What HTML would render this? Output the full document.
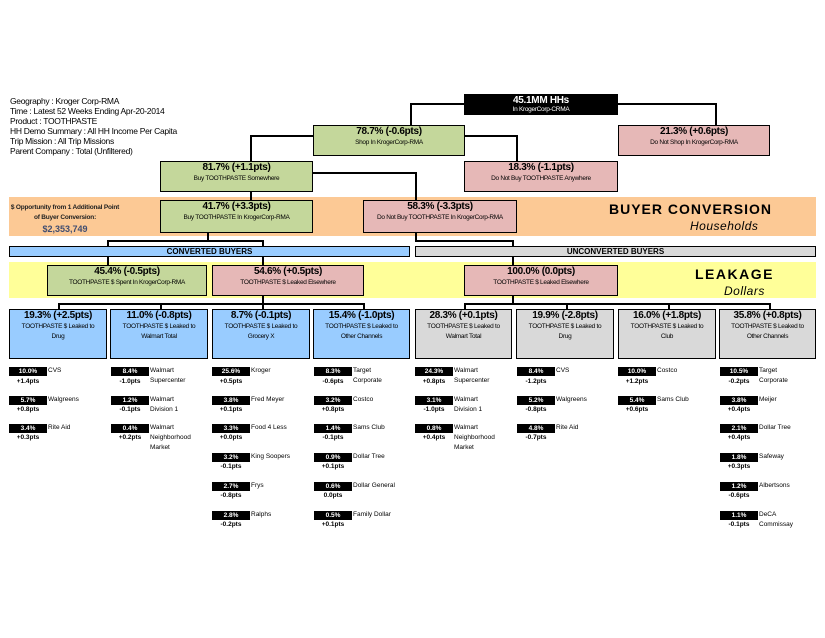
<!DOCTYPE html>
<html><head><meta charset="utf-8"><style>
body{margin:0;width:825px;height:638px;background:#fff;position:relative;overflow:hidden;font-family:"Liberation Sans",Arial,sans-serif;color:#000}
.a{position:absolute;box-sizing:border-box}
.bx{position:absolute;box-sizing:border-box;border:1.5px solid #000;text-align:center;line-height:1}
.bx b{display:block;font-size:10px;font-weight:bold;margin-top:1px;letter-spacing:-0.3px}
.bx span{display:block;font-size:6.5px;margin-top:1px;line-height:10px;letter-spacing:-0.3px}
.g{background:#c4d79b}.p{background:#e6b8b7}.bl{background:#99ccff}.gr{background:#d9d9d9}
.h{position:absolute;height:1.5px;background:#000}
.v{position:absolute;width:1.5px;background:#000}
.k{position:absolute;width:38px;height:9px;background:#000;color:#fff;font-size:6.5px;font-weight:bold;text-align:center;line-height:9px}
.n{position:absolute;font-size:6.5px;line-height:10px;white-space:nowrap}
.d{position:absolute;width:38px;font-size:6.5px;font-weight:bold;text-align:center;line-height:9px}
</style></head><body>
<div class="a" style="left:10px;top:96px;font-size:8.5px;line-height:10px;letter-spacing:-0.3px">Geography : Kroger Corp-RMA<br>Time : Latest 52 Weeks Ending Apr-20-2014<br>Product : TOOTHPASTE<br>HH Demo Summary : All HH Income Per Capita<br>Trip Mission : All Trip Missions<br>Parent Company : Total (Unfiltered)</div>

<div class="a" style="left:9px;top:197px;width:807px;height:39px;background:#fcc995"></div>
<div class="a" style="left:9px;top:262px;width:807px;height:36px;background:#ffff99"></div>

<!-- connectors -->
<div class="h" style="left:410px;top:103px;width:54px"></div><div class="v" style="left:410px;top:103px;height:22px"></div>
<div class="h" style="left:618px;top:103px;width:98px"></div><div class="v" style="left:715px;top:103px;height:22px"></div>
<div class="h" style="left:250px;top:135px;width:63px"></div><div class="v" style="left:250px;top:135px;height:26px"></div>
<div class="h" style="left:465px;top:135px;width:52px"></div><div class="v" style="left:516px;top:135px;height:26px"></div>
<div class="v" style="left:250px;top:192px;height:8px"></div>
<div class="h" style="left:313px;top:172px;width:103px"></div><div class="v" style="left:415px;top:172px;height:28px"></div>
<div class="v" style="left:207px;top:233px;height:8px"></div><div class="h" style="left:107px;top:240px;width:156px"></div>
<div class="v" style="left:107px;top:240px;height:6px"></div><div class="v" style="left:262px;top:240px;height:6px"></div>
<div class="v" style="left:415px;top:233px;height:8px"></div><div class="h" style="left:415px;top:240px;width:98px"></div><div class="v" style="left:512px;top:240px;height:6px"></div>
<div class="v" style="left:107px;top:256px;height:9px"></div><div class="v" style="left:262px;top:256px;height:9px"></div><div class="v" style="left:512px;top:256px;height:9px"></div>
<div class="v" style="left:262px;top:296px;height:8px"></div><div class="h" style="left:58px;top:303px;width:306px"></div>
<div class="v" style="left:58px;top:303px;height:7px"></div><div class="v" style="left:160px;top:303px;height:7px"></div><div class="v" style="left:262px;top:303px;height:7px"></div><div class="v" style="left:363px;top:303px;height:7px"></div>
<div class="v" style="left:512px;top:296px;height:8px"></div><div class="h" style="left:464px;top:303px;width:306px"></div>
<div class="v" style="left:464px;top:303px;height:7px"></div><div class="v" style="left:566px;top:303px;height:7px"></div><div class="v" style="left:668px;top:303px;height:7px"></div><div class="v" style="left:769px;top:303px;height:7px"></div>

<div class="bx" style="left:464px;top:94px;width:154px;height:21px;background:#000;color:#fff"><b style="margin-top:1px">45.1MM HHs</b><span style="margin-top:0;line-height:8px">In KrogerCorp-CRMA</span></div>
<div class="bx g" style="left:313px;top:125px;width:152px;height:31px"><b>78.7% (-0.6pts)</b><span>Shop In KrogerCorp-RMA</span></div>
<div class="bx p" style="left:618px;top:125px;width:152px;height:31px"><b>21.3% (+0.6pts)</b><span>Do Not Shop In KrogerCorp-RMA</span></div>
<div class="bx g" style="left:160px;top:161px;width:153px;height:31px"><b>81.7% (+1.1pts)</b><span>Buy TOOTHPASTE Somewhere</span></div>
<div class="bx p" style="left:464px;top:161px;width:154px;height:31px"><b>18.3% (-1.1pts)</b><span>Do Not Buy TOOTHPASTE Anywhere</span></div>
<div class="bx g" style="left:160px;top:200px;width:153px;height:33px"><b>41.7% (+3.3pts)</b><span>Buy TOOTHPASTE In KrogerCorp-RMA</span></div>
<div class="bx p" style="left:363px;top:200px;width:154px;height:33px"><b>58.3% (-3.3pts)</b><span style="line-height:10px;padding:0 10px">Do Not Buy TOOTHPASTE In KrogerCorp-RMA</span></div>

<div class="a" style="left:8px;top:203px;width:114px;text-align:center;font-size:6.5px;font-weight:bold;line-height:10px;color:#222;white-space:nowrap;letter-spacing:-0.2px">$ Opportunity from 1 Additional Point<br>of Buyer Conversion:</div>
<div class="a" style="left:8px;top:224px;width:114px;text-align:center;font-size:9px;font-weight:bold;color:#404d70">$2,353,749</div>
<div class="a" style="left:609px;top:201px;font-size:14px;font-weight:bold;letter-spacing:1px">BUYER CONVERSION</div>
<div class="a" style="left:690px;top:219px;font-size:12px;font-style:italic;letter-spacing:0.5px">Households</div>

<div class="bx bl" style="left:9px;top:246px;width:401px;height:11px;font-size:8px;font-weight:bold;line-height:9px">CONVERTED BUYERS</div>
<div class="bx gr" style="left:415px;top:246px;width:401px;height:11px;font-size:8px;font-weight:bold;line-height:9px">UNCONVERTED BUYERS</div>

<div class="bx g" style="left:47px;top:265px;width:160px;height:31px"><b>45.4% (-0.5pts)</b><span>TOOTHPASTE $ Spent In KrogerCorp-RMA</span></div>
<div class="bx p" style="left:212px;top:265px;width:152px;height:31px"><b>54.6% (+0.5pts)</b><span>TOOTHPASTE $ Leaked Elsewhere</span></div>
<div class="bx p" style="left:464px;top:265px;width:154px;height:31px"><b>100.0% (0.0pts)</b><span>TOOTHPASTE $ Leaked Elsewhere</span></div>
<div class="a" style="left:695px;top:266px;font-size:14px;font-weight:bold;letter-spacing:1.5px">LEAKAGE</div>
<div class="a" style="left:724px;top:284px;font-size:12px;font-style:italic;letter-spacing:0.5px">Dollars</div>

<div class="bx bl" style="left:9px;top:309px;width:98px;height:50px"><b>19.3% (+2.5pts)</b><span>TOOTHPASTE $ Leaked to<br>Drug</span></div>
<div class="bx bl" style="left:110px;top:309px;width:98px;height:50px"><b>11.0% (-0.8pts)</b><span>TOOTHPASTE $ Leaked to<br>Walmart Total</span></div>
<div class="bx bl" style="left:212px;top:309px;width:98px;height:50px"><b>8.7% (-0.1pts)</b><span>TOOTHPASTE $ Leaked to<br>Grocery X</span></div>
<div class="bx bl" style="left:313px;top:309px;width:97px;height:50px"><b>15.4% (-1.0pts)</b><span>TOOTHPASTE $ Leaked to<br>Other Channels</span></div>
<div class="bx gr" style="left:415px;top:309px;width:97px;height:50px"><b>28.3% (+0.1pts)</b><span>TOOTHPASTE $ Leaked to<br>Walmart Total</span></div>
<div class="bx gr" style="left:516px;top:309px;width:98px;height:50px"><b>19.9% (-2.8pts)</b><span>TOOTHPASTE $ Leaked to<br>Drug</span></div>
<div class="bx gr" style="left:618px;top:309px;width:98px;height:50px"><b>16.0% (+1.8pts)</b><span>TOOTHPASTE $ Leaked to<br>Club</span></div>
<div class="bx gr" style="left:719px;top:309px;width:97px;height:50px"><b>35.8% (+0.8pts)</b><span>TOOTHPASTE $ Leaked to<br>Other Channels</span></div>

<div class="k" style="left:9px;top:367px">10.0%</div><div class="n" style="left:48px;top:366px">CVS</div><div class="d" style="left:9px;top:377px">+1.4pts</div>
<div class="k" style="left:9px;top:396px">5.7%</div><div class="n" style="left:48px;top:395px">Walgreens</div><div class="d" style="left:9px;top:405px">+0.8pts</div>
<div class="k" style="left:9px;top:424px">3.4%</div><div class="n" style="left:48px;top:423px">Rite Aid</div><div class="d" style="left:9px;top:433px">+0.3pts</div>
<div class="k" style="left:111px;top:367px">8.4%</div><div class="n" style="left:150px;top:366px">Walmart<br>Supercenter</div><div class="d" style="left:111px;top:377px">-1.0pts</div>
<div class="k" style="left:111px;top:396px">1.2%</div><div class="n" style="left:150px;top:395px">Walmart<br>Division 1</div><div class="d" style="left:111px;top:405px">-0.1pts</div>
<div class="k" style="left:111px;top:424px">0.4%</div><div class="n" style="left:150px;top:423px">Walmart<br>Neighborhood<br>Market</div><div class="d" style="left:111px;top:433px">+0.2pts</div>
<div class="k" style="left:212px;top:367px">25.6%</div><div class="n" style="left:251px;top:366px">Kroger</div><div class="d" style="left:212px;top:377px">+0.5pts</div>
<div class="k" style="left:212px;top:396px">3.8%</div><div class="n" style="left:251px;top:395px">Fred Meyer</div><div class="d" style="left:212px;top:405px">+0.1pts</div>
<div class="k" style="left:212px;top:424px">3.3%</div><div class="n" style="left:251px;top:423px">Food 4 Less</div><div class="d" style="left:212px;top:433px">+0.0pts</div>
<div class="k" style="left:212px;top:453px">3.2%</div><div class="n" style="left:251px;top:452px">King Soopers</div><div class="d" style="left:212px;top:462px">-0.1pts</div>
<div class="k" style="left:212px;top:482px">2.7%</div><div class="n" style="left:251px;top:481px">Frys</div><div class="d" style="left:212px;top:491px">-0.8pts</div>
<div class="k" style="left:212px;top:511px">2.8%</div><div class="n" style="left:251px;top:510px">Ralphs</div><div class="d" style="left:212px;top:520px">-0.2pts</div>
<div class="k" style="left:314px;top:367px">8.3%</div><div class="n" style="left:353px;top:366px">Target<br>Corporate</div><div class="d" style="left:314px;top:377px">-0.6pts</div>
<div class="k" style="left:314px;top:396px">3.2%</div><div class="n" style="left:353px;top:395px">Costco</div><div class="d" style="left:314px;top:405px">+0.8pts</div>
<div class="k" style="left:314px;top:424px">1.4%</div><div class="n" style="left:353px;top:423px">Sams Club</div><div class="d" style="left:314px;top:433px">-0.1pts</div>
<div class="k" style="left:314px;top:453px">0.9%</div><div class="n" style="left:353px;top:452px">Dollar Tree</div><div class="d" style="left:314px;top:462px">+0.1pts</div>
<div class="k" style="left:314px;top:482px">0.6%</div><div class="n" style="left:353px;top:481px">Dollar General</div><div class="d" style="left:314px;top:491px">0.0pts</div>
<div class="k" style="left:314px;top:511px">0.5%</div><div class="n" style="left:353px;top:510px">Family Dollar</div><div class="d" style="left:314px;top:520px">+0.1pts</div>
<div class="k" style="left:415px;top:367px">24.3%</div><div class="n" style="left:454px;top:366px">Walmart<br>Supercenter</div><div class="d" style="left:415px;top:377px">+0.8pts</div>
<div class="k" style="left:415px;top:396px">3.1%</div><div class="n" style="left:454px;top:395px">Walmart<br>Division 1</div><div class="d" style="left:415px;top:405px">-1.0pts</div>
<div class="k" style="left:415px;top:424px">0.8%</div><div class="n" style="left:454px;top:423px">Walmart<br>Neighborhood<br>Market</div><div class="d" style="left:415px;top:433px">+0.4pts</div>
<div class="k" style="left:517px;top:367px">8.4%</div><div class="n" style="left:556px;top:366px">CVS</div><div class="d" style="left:517px;top:377px">-1.2pts</div>
<div class="k" style="left:517px;top:396px">5.2%</div><div class="n" style="left:556px;top:395px">Walgreens</div><div class="d" style="left:517px;top:405px">-0.8pts</div>
<div class="k" style="left:517px;top:424px">4.8%</div><div class="n" style="left:556px;top:423px">Rite Aid</div><div class="d" style="left:517px;top:433px">-0.7pts</div>
<div class="k" style="left:618px;top:367px">10.0%</div><div class="n" style="left:657px;top:366px">Costco</div><div class="d" style="left:618px;top:377px">+1.2pts</div>
<div class="k" style="left:618px;top:396px">5.4%</div><div class="n" style="left:657px;top:395px">Sams Club</div><div class="d" style="left:618px;top:405px">+0.6pts</div>
<div class="k" style="left:720px;top:367px">10.5%</div><div class="n" style="left:759px;top:366px">Target<br>Corporate</div><div class="d" style="left:720px;top:377px">-0.2pts</div>
<div class="k" style="left:720px;top:396px">3.8%</div><div class="n" style="left:759px;top:395px">Meijer</div><div class="d" style="left:720px;top:405px">+0.4pts</div>
<div class="k" style="left:720px;top:424px">2.1%</div><div class="n" style="left:759px;top:423px">Dollar Tree</div><div class="d" style="left:720px;top:433px">+0.4pts</div>
<div class="k" style="left:720px;top:453px">1.8%</div><div class="n" style="left:759px;top:452px">Safeway</div><div class="d" style="left:720px;top:462px">+0.3pts</div>
<div class="k" style="left:720px;top:482px">1.2%</div><div class="n" style="left:759px;top:481px">Albertsons</div><div class="d" style="left:720px;top:491px">-0.6pts</div>
<div class="k" style="left:720px;top:511px">1.1%</div><div class="n" style="left:759px;top:510px">DeCA<br>Commissay</div><div class="d" style="left:720px;top:520px">-0.1pts</div>
</body></html>
